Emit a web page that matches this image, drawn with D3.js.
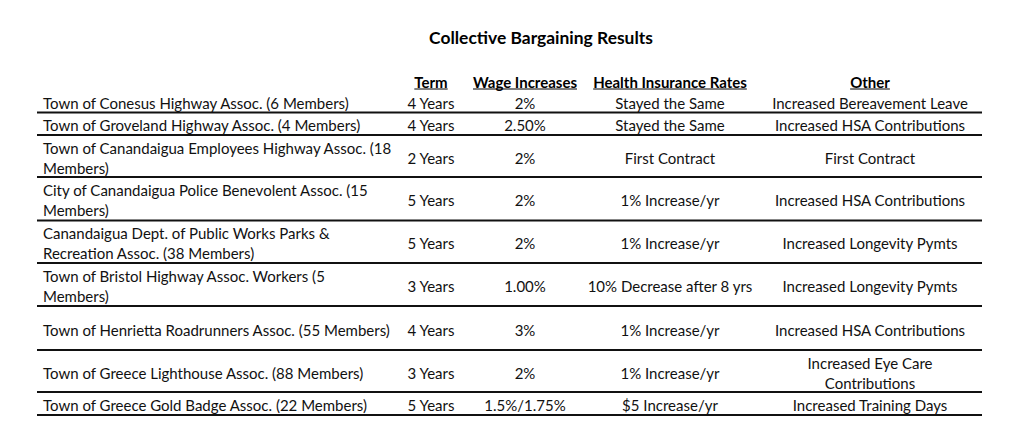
<!DOCTYPE html>
<html><head><meta charset="utf-8">
<script src="https://cdn.jsdelivr.net/npm/d3@7"></script>
<style>html,body{margin:0;padding:0;background:#fff;}svg{display:block;}</style>
</head><body>
<script>
// ---- data ----
const title = "Collective Bargaining Results";
const columns = ["", "Term", "Wage Increases", "Health Insurance Rates", "Other"];
const units = [
  "Town of Conesus Highway Assoc. (6 Members)",
  "Town of Groveland Highway Assoc. (4 Members)",
  "Town of Canandaigua Employees Highway Assoc. (18\nMembers)",
  "City of Canandaigua Police Benevolent Assoc. (15\nMembers)",
  "Canandaigua Dept. of Public Works Parks &\nRecreation Assoc. (38 Members)",
  "Town of Bristol Highway Assoc. Workers (5\nMembers)",
  "Town of Henrietta Roadrunners Assoc. (55 Members)",
  "Town of Greece Lighthouse Assoc. (88 Members)",
  "Town of Greece Gold Badge Assoc. (22 Members)"
];
const terms = ["4 Years","4 Years","2 Years","5 Years","5 Years","3 Years","4 Years","3 Years","5 Years"];
const wages = ["2%","2.50%","2%","2%","2%","1.00%","3%","2%","1.5%/1.75%"];
const health = ["Stayed the Same","Stayed the Same","First Contract","1% Increase/yr","1% Increase/yr",
  "10% Decrease after 8 yrs","1% Increase/yr","1% Increase/yr","$5 Increase/yr"];
const other = ["Increased Bereavement Leave","Increased HSA Contributions","First Contract",
  "Increased HSA Contributions","Increased Longevity Pymts","Increased Longevity Pymts",
  "Increased HSA Contributions","Increased Eye Care\nContributions","Increased Training Days"];

// ---- layout ----
const W = 1024, H = 448;
const FONT = "Lato, 'Open Sans', sans-serif";
const rowHeights = [21.5, 22.5, 42, 43.5, 42.5, 43, 44, 42, 23];
const tableTop = 91, lineX0 = 37, lineX1 = 982, lineGap = 20;
const colX = [43, 431, 525, 670, 870];

function measure(txt, weight, size){
  const c = measure.c || (measure.c = document.createElement("canvas").getContext("2d"));
  c.font = `${weight} ${size}px ${FONT}`;
  return c.measureText(txt).width;
}
const bodySize = 100 * 348 / measure(units[6], "normal", 100);
const titleSize = 100 * 224 / measure(title, "bold", 100);
const headSize = 100 * 153.7 / measure(columns[3], "bold", 100);

const svg = d3.select("body").append("svg").attr("width", W).attr("height", H)
  .style("font-family", FONT);
svg.append("rect").attr("width", W).attr("height", H).attr("fill", "#fff");

svg.append("text").attr("x", 541).attr("y", 37).attr("text-anchor", "middle")
  .attr("dominant-baseline", "central").attr("font-weight", "bold")
  .attr("font-size", titleSize).attr("fill", "#000").text(title);

// header
const hdr = svg.append("g");
columns.forEach((c, i) => {
  if (!c) return;
  hdr.append("text").attr("x", colX[i]).attr("y", 82).attr("text-anchor", "middle")
    .attr("dominant-baseline", "central").attr("font-weight", "bold")
    .attr("font-size", headSize).attr("fill", "#000").text(c);
  const w = measure(c, "bold", headSize);
  hdr.append("line").attr("x1", colX[i] - w/2).attr("x2", colX[i] + w/2)
    .attr("y1", 89).attr("y2", 89).attr("stroke", "#000").attr("stroke-width", 1.2);
});

// rows
const tops = [];
rowHeights.reduce((acc, h) => { tops.push(acc); return acc + h; }, tableTop);
const rows = units.map((u, i) => ({u, t: terms[i], w: wages[i], h: health[i], o: other[i],
  top: tops[i], height: rowHeights[i]}));

const g = svg.append("g");
const rowG = g.selectAll("g.row").data(rows).join("g").attr("class", "row");

function cell(sel, key, x, anchor){
  sel.each(function(d){
    const lines = d[key].split("\n");
    const cy = d.top + d.height/2 + 1.5;
    const t = d3.select(this).append("text").attr("x", x).attr("text-anchor", anchor)
      .attr("font-size", bodySize).attr("fill", "#111").attr("dominant-baseline", "central");
    lines.forEach((ln, k) => {
      t.append("tspan").attr("x", x)
        .attr("y", cy + (k - (lines.length - 1)/2) * lineGap).text(ln);
    });
  });
}
cell(rowG, "u", colX[0], "start");
cell(rowG, "t", colX[1], "middle");
cell(rowG, "w", colX[2], "middle");
cell(rowG, "h", colX[3], "middle");
cell(rowG, "o", colX[4], "middle");

rowG.append("line").attr("x1", lineX0).attr("x2", lineX1)
  .attr("y1", d => d.top + d.height).attr("y2", d => d.top + d.height)
  .attr("stroke", "#111").attr("stroke-width", 2);
</script>
</body></html>
